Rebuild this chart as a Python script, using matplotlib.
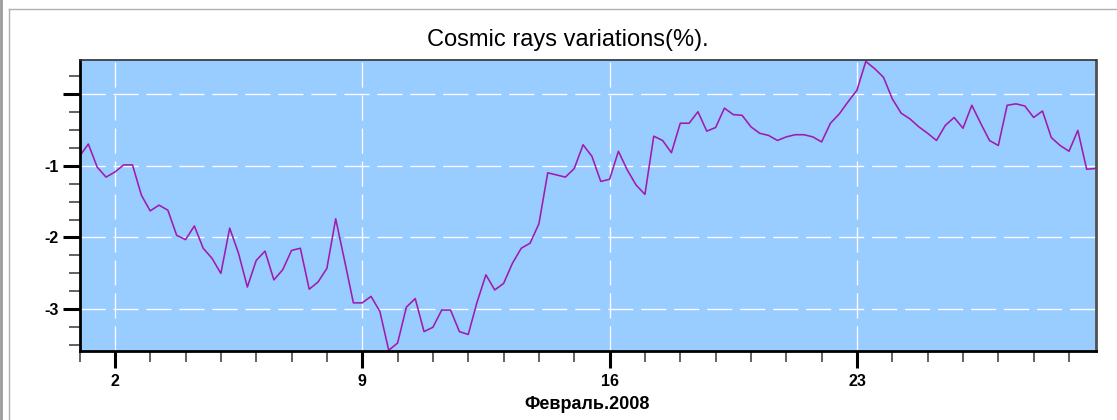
import numpy as np
import pandas as pd
import matplotlib
matplotlib.use('Agg')
import matplotlib.pyplot as plt
import matplotlib.dates as mdates
from matplotlib.lines import Line2D
from matplotlib.ticker import FixedLocator, MultipleLocator, FuncFormatter

# 6-hourly cosmic ray variations, February 2008
start = '2008-02-01 00:00'
step = '6h'
variations = [
    -0.87, -0.70, -1.02, -1.16, -1.09, -0.99, -0.99, -1.41,
    -1.63, -1.55, -1.62, -1.97, -2.03, -1.84, -2.15, -2.29,
    -2.50, -1.87, -2.22, -2.69, -2.32, -2.19, -2.59, -2.45,
    -2.18, -2.15, -2.72, -2.62, -2.43, -1.74, -2.32, -2.91,
    -2.91, -2.82, -3.03, -3.57, -3.47, -2.97, -2.85, -3.31,
    -3.25, -3.01, -3.01, -3.31, -3.35, -2.90, -2.52, -2.73,
    -2.64, -2.36, -2.15, -2.08, -1.81, -1.10, -1.13, -1.16,
    -1.04, -0.71, -0.87, -1.22, -1.19, -0.80, -1.06, -1.27,
    -1.40, -0.59, -0.65, -0.82, -0.41, -0.41, -0.25, -0.52,
    -0.47, -0.20, -0.29, -0.30, -0.46, -0.55, -0.58, -0.65,
    -0.60, -0.57, -0.57, -0.60, -0.67, -0.41, -0.28, -0.11,
    0.05, 0.45, 0.35, 0.23, -0.07, -0.27, -0.35, -0.46,
    -0.55, -0.65, -0.44, -0.33, -0.48, -0.16, -0.41, -0.65,
    -0.72, -0.16, -0.14, -0.17, -0.33, -0.24, -0.61, -0.72,
    -0.80, -0.51, -1.05, -1.04,
]
major_days = [2, 9, 16, 23]
y_major = [0, -1, -2, -3]
y_labels = ['', '-1', '-2', '-3']

times = pd.date_range(start, periods=len(variations), freq=step)

plt.rcParams['font.family'] = ['Liberation Sans', 'DejaVu Sans']

fig = plt.figure(figsize=(11.17, 4.2), dpi=100)
ax = fig.add_axes([79.5 / 1117, 1 - 351 / 420, 1016 / 1117, 291 / 420])
ax.set_facecolor('#99CCFF')

ax.plot(times, variations, color='#A01AB0', lw=1.15)

ax.set_xlim(times[0], times[-1])
ax.set_ylim(-3.58, 0.47)

# x axis: day ticks
ax.xaxis.set_major_locator(mdates.DayLocator(bymonthday=major_days))
ax.xaxis.set_minor_locator(mdates.DayLocator())
ax.xaxis.set_major_formatter(FuncFormatter(lambda v, p: str(mdates.num2date(v).day)))

ax.yaxis.set_major_locator(FixedLocator(y_major))
ax.set_yticklabels(y_labels)
ax.yaxis.set_minor_locator(MultipleLocator(0.25))

ax.tick_params(which='major', direction='out', length=12.5, width=2.2, color='black',
               labelsize=11.5, pad=2.5)
ax.tick_params(which='minor', direction='out', length=8, width=1.3, color='#555555')
ax.tick_params(axis='x', which='major', pad=4)
for lab in ax.get_xticklabels() + ax.get_yticklabels():
    lab.set_fontweight('bold')

ax.grid(True, which='major', color='white', lw=0.95, linestyle=(0, (19, 6)))

for side, (lw, c) in {'left': (2.0, 'black'), 'bottom': (2.0, 'black'),
                      'top': (1.2, '#303030'), 'right': (2.0, '#505050')}.items():
    ax.spines[side].set_linewidth(lw)
    ax.spines[side].set_color(c)

ax.set_xlabel('Февраль.2008', fontsize=13, fontweight='bold', labelpad=5)
fig.text(568 / 1117, 1 - 40 / 420, 'Cosmic rays variations(%).', fontsize=17,
         ha='center', va='center')

# window frame
fig.add_artist(Line2D([1 / 1117, 1 / 1117], [0, 1], color='#9a9a9a', lw=2))
fig.add_artist(Line2D([8.5 / 1117, 8.5 / 1117], [0, 1 - 9 / 420], color='#b0b0b0', lw=1))
fig.add_artist(Line2D([8.5 / 1117, 1], [1 - 9 / 420, 1 - 9 / 420], color='#b0b0b0', lw=1))

fig.savefig('out.png', dpi=100)
